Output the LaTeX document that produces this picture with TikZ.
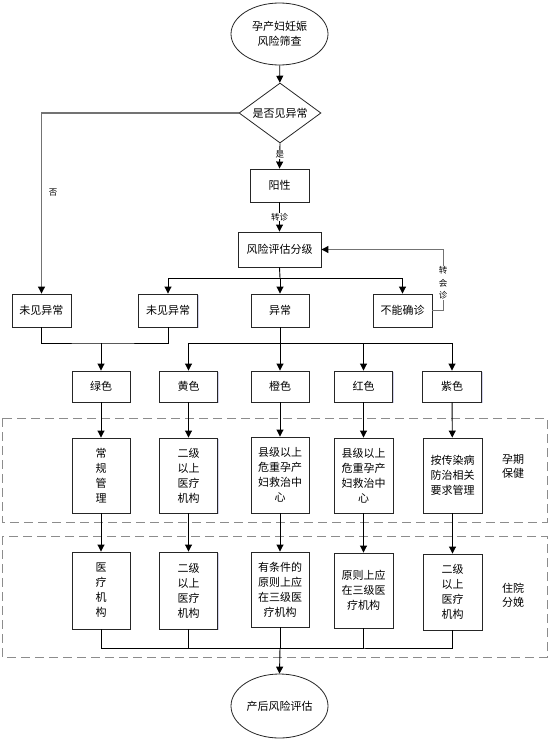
\documentclass[tikz,border=0pt]{standalone}
\usepackage{fontspec}
\setmainfont{Noto Sans CJK SC}
\usetikzlibrary{arrows.meta,shapes.geometric,shadows}
\begin{document}
\begin{tikzpicture}[x=1pt,y=-1pt,
  every node/.style={font=\fontsize{11}{15}\selectfont},
  box/.style={draw=black!85,line width=0.9pt,fill=white,rectangle,align=center,inner sep=1pt,
    drop shadow={shadow xshift=1pt,shadow yshift=-1.2pt,opacity=0.25,fill=blue!40!gray}},
  oval/.style={draw=black!85,line width=0.8pt,fill=white,ellipse,inner sep=0pt,align=center},
  lbl/.style={fill=white,inner sep=0.5pt,font=\fontsize{8.5}{12.5}\selectfont,align=center},
  side/.style={align=center,font=\fontsize{11}{14}\selectfont},
  conn/.style={line width=0.9pt,draw=black,-{Triangle[width=7pt,length=7pt]}},
  line/.style={line width=0.9pt,draw=black},
  gconn/.style={line width=1.1pt,draw=black!55,-{Triangle[width=7pt,length=7pt,color=black]}},
  gline/.style={line width=1.1pt,draw=black!55},
  region/.style={draw=black!45,line width=0.9pt,dash pattern=on 9pt off 5pt}]
\useasboundingbox (0,0) rectangle (550,747);

% dashed regions
\draw[region] (2,418) rectangle (547,522);
\draw[region] (2,536) rectangle (547,657);

% top
\node[oval,minimum width=97pt,minimum height=62pt] (start) at (279.5,34) {孕产妇妊娠\\风险筛查};
\node[diamond,draw=black!85,line width=0.8pt,fill=white,minimum width=82pt,minimum height=60pt,inner sep=0pt,aspect=1.37] (dia) at (280,113) {是否见异常};
\node[box,minimum width=59pt,minimum height=33pt] (yx) at (279.5,185.5) {阳性};
\node[box,minimum width=83pt,minimum height=35pt] (fx) at (279.5,249.5) {风险评估分级};

% second row
\node[box,minimum width=59pt,minimum height=33pt] (wj1) at (41.5,310.5) {未见异常};
\node[box,minimum width=59pt,minimum height=33pt] (wj2) at (168,310.5) {未见异常};
\node[box,minimum width=58pt,minimum height=33pt] (yc) at (280,310.5) {异常};
\node[box,minimum width=59pt,minimum height=33pt] (bn) at (402.5,310.5) {不能确诊};

% colour row
\node[box,minimum width=58pt,minimum height=31pt] (c1) at (101,386.5) {绿色};
\node[box,minimum width=58pt,minimum height=31pt] (c2) at (188.5,386.5) {黄色};
\node[box,minimum width=58pt,minimum height=31pt] (c3) at (280,386.5) {橙色};
\node[box,minimum width=58pt,minimum height=31pt] (c4) at (363.5,386.5) {红色};
\node[box,minimum width=59pt,minimum height=31pt] (c5) at (452,386.5) {紫色};

% row 3 (孕期保健)
\node[box,minimum width=58pt,minimum height=75pt] (p1) at (101,475.5) {常\\规\\管\\理};
\node[box,minimum width=58pt,minimum height=75pt] (p2) at (188.5,475.5) {二级\\以上\\医疗\\机构};
\node[box,minimum width=58pt,minimum height=76pt] (p3) at (280,475) {县级以上\\危重孕产\\妇救治中\\心};
\node[box,minimum width=59pt,minimum height=75pt] (p4) at (363.5,475.5) {县级以上\\危重孕产\\妇救治中\\心};
\node[box,minimum width=59pt,minimum height=75pt] (p5) at (452.5,475.5) {按传染病\\防治相关\\要求管理};
\node[side] (t1) at (513,466) {孕期\\保健};

% row 4 (住院分娩)
\node[box,minimum width=58pt,minimum height=77pt] (q1) at (101,590.5) {医\\疗\\机\\构};
\node[box,minimum width=58pt,minimum height=77pt] (q2) at (188.5,590.5) {二级\\以上\\医疗\\机构};
\node[box,minimum width=58pt,minimum height=75pt] (q3) at (280,589.5) {有条件的\\原则上应\\在三级医\\疗机构};
\node[box,minimum width=59pt,minimum height=75pt] (q4) at (363.5,590.5) {原则上应\\在三级医\\疗机构};
\node[box,minimum width=59pt,minimum height=76pt] (q5) at (452.5,592) {二级\\以上\\医疗\\机构};
\node[side] (t2) at (513,595) {住院\\分娩};

\node[oval,minimum width=97pt,minimum height=64pt] (end) at (279.5,706) {产后风险评估};

% connectors top
\draw[conn] (start) -- (dia);
\draw[conn] (dia.south) -- node[lbl,pos=0.45] {是} (yx.north);
\draw[conn] (yx.south) -- node[lbl,pos=0.5] {转诊} (fx.north);
\draw[gconn] (dia.west) -| (wj1.north);
\node[lbl] (no) at (53,193) {否};

% branch
\coordinate (b1) at (280,278);
\draw[line] (fx.south) -- (b1);
\draw[conn] (b1) -| (wj2.north);
\draw[conn] (b1) -| (bn.north);
\draw[conn] (b1) -- (yc.north);

% feedback
\draw[gconn] (bn.east) -- ++(11,0) |- (fx.east);
\node[lbl] (hz) at (443,283) {转\\会\\诊};

% join of normal results
\coordinate (j1) at (101,343);
\draw[line] (wj1.south) |- (j1) -| (wj2.south);
\draw[conn] (j1) -- (c1.north);

% abnormal fan-out
\coordinate (j2) at (280,343);
\draw[line] (yc.south) -- (j2);
\draw[conn] (j2) -| (c2.north);
\draw[conn] (j2) -| (c4.north);
\draw[conn] (j2) -| (c5.north);
\draw[conn] (j2) -- (c3.north);

% colour to row3
\draw[conn] (c1) -- (p1);
\draw[conn] (c2) -- (p2);
\draw[conn] (c3) -- (p3);
\draw[conn] (c4) -- (p4);
\draw[conn] (c5) -- (p5);

% row3 to row4
\draw[conn] (p1.south) -- (q1.north);
\draw[conn] (p2.south) -- (q2.north);
\draw[conn] (p3.south) -- (q3.north);
\draw[conn] (p4.south) -- (q4.north);
\draw[conn] (p5.south) -- (q5.north);

% join to end
\coordinate (j3) at (280,648);
\draw[line] (q1.south) |- (j3) -| (q5.south);
\draw[line] (q2.south) |- (j3);
\draw[line] (q4.south) |- (j3);
\draw[line] (q3.south) -- (j3);
\draw[conn] (j3) -- (end.north);
\end{tikzpicture}
\end{document}
